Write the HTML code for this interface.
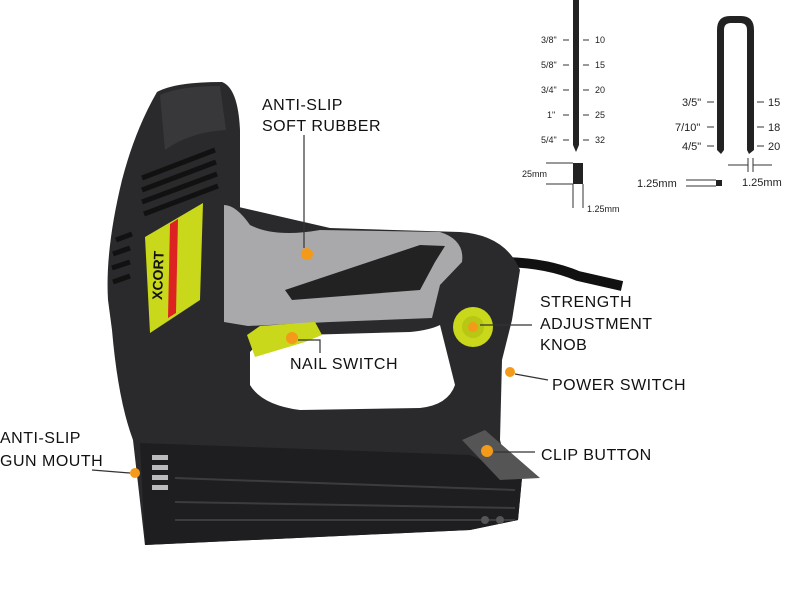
<!DOCTYPE html>
<html><head><meta charset="utf-8"><style>
html,body{margin:0;padding:0;background:#fff;}
svg{display:block}
text{font-family:"Liberation Sans",sans-serif;}
</style></head><body>
<svg width="800" height="590" viewBox="0 0 800 590" xmlns="http://www.w3.org/2000/svg">
<rect width="800" height="590" fill="#fff"/>
<!-- cord -->
<path d="M500,262 Q545,262 578,276 L622,286" stroke="#111" stroke-width="10" fill="none"/>
<!-- main body -->
<path d="M157,92 Q175,82 222,82 Q238,88 240,130 L240,210 L230,205 L330,228 L460,232 Q505,235 520,270 L512,320 L502,360 L500,440 Q505,462 522,478 L518,520 L470,530 L145,545 L133,440 Q118,400 112,330 L108,300 Q105,250 122,180 Q135,130 157,92 Z" fill="#2a2a2c"/>
<!-- top highlight -->
<path d="M160,95 Q180,86 220,86 L226,130 Q190,132 165,150 Z" fill="#38383b"/>
<!-- grey handle -->
<path d="M224,205 Q236,205 250,225 Q275,238 320,230 L440,232 Q465,240 462,262 L440,285 L432,318 L330,322 L248,326 L224,322 Z" fill="#a9a9ab"/>
<path d="M285,290 L420,245 L445,246 L435,262 L420,290 L292,300 Z" fill="#222"/>
<!-- trigger hole -->
<path d="M250,352 L265,336 L410,332 Q430,330 440,325 L455,385 Q448,405 420,408 L300,410 Q262,405 250,385 Z" fill="#fff"/>
<!-- nail switch yellow -->
<path d="M247,335 L260,326 L315,322 L322,335 L305,342 L255,357 Z" fill="#c9d81a"/>
<!-- knob -->
<circle cx="473" cy="327" r="20" fill="#c9d81a"/>
<circle cx="473" cy="327" r="11" fill="#b8c614"/>
<!-- vents -->
<g stroke="#111" stroke-width="5">
<line x1="142" y1="178" x2="215" y2="150"/><line x1="142" y1="190" x2="216" y2="162"/>
<line x1="142" y1="202" x2="217" y2="174"/><line x1="144" y1="214" x2="218" y2="186"/>
<line x1="116" y1="240" x2="132" y2="234"/><line x1="113" y1="254" x2="130" y2="248"/>
<line x1="112" y1="268" x2="130" y2="262"/><line x1="113" y1="282" x2="130" y2="276"/>
</g>
<!-- label -->
<path d="M145,237 L203,203 L200,300 L150,333 Z" fill="#c9d81a"/>
<path d="M170,224 L178,219 L176,313 L168,318 Z" fill="#d22"/>
<text transform="translate(162,300) rotate(-88)" font-size="14" font-weight="bold" fill="#111">XCORT</text>
<!-- magazine -->
<path d="M140,443 L470,455 L522,478 L518,520 L470,530 L145,545 Z" fill="#1e1e20"/>
<g stroke="#3c3c40" stroke-width="2"><line x1="175" y1="478" x2="515" y2="490"/><line x1="175" y1="502" x2="515" y2="508"/><line x1="175" y1="520" x2="515" y2="520"/></g>
<g fill="#bbb"><rect x="152" y="455" width="16" height="5"/><rect x="152" y="465" width="16" height="5"/><rect x="152" y="475" width="16" height="5"/><rect x="152" y="485" width="16" height="5"/></g>
<circle cx="485" cy="520" r="4" fill="#555"/><circle cx="500" cy="520" r="4" fill="#555"/>
<!-- clip lever -->
<path d="M462,440 L485,430 L540,478 L500,480 Z" fill="#555"/>
<!-- orange dots -->
<g fill="#f39a1b"><circle cx="307" cy="254" r="6"/><circle cx="292" cy="338" r="6"/><circle cx="473" cy="327" r="5"/><circle cx="510" cy="372" r="5"/><circle cx="487" cy="451" r="6"/><circle cx="135" cy="473" r="5"/></g>
<!-- leader lines -->
<g stroke="#333" stroke-width="1.2" fill="none">
<line x1="304" y1="135" x2="304" y2="248"/>
<polyline points="298,340 320,340 320,353"/>
<line x1="480" y1="325" x2="532" y2="325"/>
<line x1="515" y1="374" x2="548" y2="380"/>
<line x1="494" y1="452" x2="535" y2="452"/>
<line x1="92" y1="470" x2="130" y2="473"/>
</g>
<!-- labels -->
<g font-size="16" fill="#111" letter-spacing="0.5">
<text x="262" y="110">ANTI-SLIP</text><text x="262" y="131">SOFT RUBBER</text>
<text x="540" y="307">STRENGTH</text><text x="540" y="329">ADJUSTMENT</text><text x="540" y="350">KNOB</text>
<text x="290" y="369">NAIL SWITCH</text>
<text x="552" y="390">POWER SWITCH</text>
<text x="541" y="460">CLIP BUTTON</text>
<text x="0" y="443">ANTI-SLIP</text><text x="0" y="466">GUN MOUTH</text>
</g>
<!-- nail diagram -->
<g fill="#222">
<rect x="573" y="0" width="6" height="145"/><path d="M573,145 L579,145 L576,152 Z"/>
<rect x="573" y="163" width="10" height="21"/>
<path d="M717,30 Q717,16 730,16 L741,16 Q754,16 754,30 L754,150 L749,154 L747,150 L747,30 Q747,23 740,23 L731,23 Q724,23 724,30 L724,150 L721,154 L717,150 Z"/>
<rect x="716" y="180" width="6" height="6"/>
</g>
<g stroke="#333" stroke-width="1">
<line x1="563" y1="40" x2="569" y2="40"/><line x1="583" y1="40" x2="589" y2="40"/>
<line x1="563" y1="65" x2="569" y2="65"/><line x1="583" y1="65" x2="589" y2="65"/>
<line x1="563" y1="90" x2="569" y2="90"/><line x1="583" y1="90" x2="589" y2="90"/>
<line x1="563" y1="115" x2="569" y2="115"/><line x1="583" y1="115" x2="589" y2="115"/>
<line x1="563" y1="140" x2="569" y2="140"/><line x1="583" y1="140" x2="589" y2="140"/>
<line x1="707" y1="102" x2="714" y2="102"/><line x1="757" y1="102" x2="764" y2="102"/>
<line x1="707" y1="127" x2="714" y2="127"/><line x1="757" y1="127" x2="764" y2="127"/>
<line x1="707" y1="146" x2="714" y2="146"/><line x1="757" y1="146" x2="764" y2="146"/>
<line x1="546" y1="163" x2="573" y2="163"/><line x1="546" y1="184" x2="573" y2="184"/>
<line x1="573" y1="184" x2="573" y2="208"/><line x1="583" y1="184" x2="583" y2="208"/>
<line x1="686" y1="180" x2="716" y2="180"/><line x1="686" y1="186" x2="716" y2="186"/>
<line x1="748" y1="158" x2="748" y2="172"/><line x1="753" y1="158" x2="753" y2="172"/>
<line x1="728" y1="165" x2="748" y2="165"/><line x1="753" y1="165" x2="772" y2="165"/>
</g>
<g font-size="9" fill="#222">
<text x="541" y="43">3/8"</text><text x="595" y="43">10</text>
<text x="541" y="68">5/8"</text><text x="595" y="68">15</text>
<text x="541" y="93">3/4"</text><text x="595" y="93">20</text>
<text x="547" y="118">1"</text><text x="595" y="118">25</text>
<text x="541" y="143">5/4"</text><text x="595" y="143">32</text>
<text x="522" y="177">25mm</text><text x="587" y="212">1.25mm</text>
</g>
<g font-size="11" fill="#222">
<text x="682" y="106">3/5"</text><text x="768" y="106">15</text>
<text x="675" y="131">7/10"</text><text x="768" y="131">18</text>
<text x="682" y="150">4/5"</text><text x="768" y="150">20</text>
<text x="637" y="187">1.25mm</text><text x="742" y="186">1.25mm</text>
</g>
</svg>
</body></html>
